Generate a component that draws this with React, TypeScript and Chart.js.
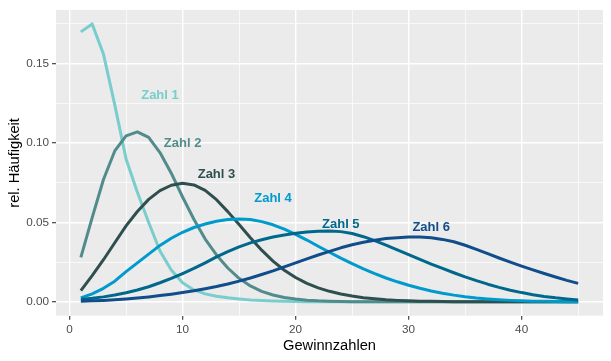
import React, { useEffect, useRef } from "react";
import { Chart, registerables } from "chart.js";

Chart.register(...registerables);

const gewinnzahlen = [1, 2, 3, 4, 5, 6, 7, 8, 9, 10, 11, 12, 13, 14, 15, 16, 17, 18, 19, 20, 21, 22, 23, 24, 25, 26, 27, 28, 29, 30, 31, 32, 33, 34, 35, 36, 37, 38, 39, 40, 41, 42, 43, 44, 45];

const zahl1 = [0.170, 0.175, 0.156, 0.124, 0.090, 0.069, 0.050, 0.032, 0.020, 0.012, 0.0075, 0.005, 0.0035, 0.0025, 0.0018, 0.0012, 0.0008, 0.0005, 0.0003, 0.0002, 0.0001, 0.0001, 0.0001, 0, 0, 0, 0, 0, 0, 0, 0, 0, 0, 0, 0, 0, 0, 0, 0, 0, 0, 0, 0, 0, 0];
const zahl2 = [0.028, 0.053, 0.077, 0.095, 0.1045, 0.107, 0.1035, 0.094, 0.081, 0.066, 0.052, 0.0395, 0.0295, 0.0213, 0.0148, 0.0100, 0.0066, 0.0043, 0.0027, 0.0017, 0.0010, 0.0006, 0.0004, 0.0002, 0.0001, 0.0001, 0, 0, 0, 0, 0, 0, 0, 0, 0, 0, 0, 0, 0, 0, 0, 0, 0, 0, 0];
const zahl3 = [0.007, 0.0165, 0.0265, 0.0372, 0.0478, 0.0569, 0.0645, 0.0700, 0.0734, 0.0746, 0.0736, 0.0702, 0.0643, 0.0568, 0.0487, 0.0403, 0.0325, 0.0256, 0.0199, 0.0153, 0.0116, 0.0088, 0.0066, 0.0049, 0.0036, 0.0026, 0.0019, 0.0013, 0.0009, 0.0006, 0.0004, 0.0003, 0.0002, 0.0001, 0.0001, 0, 0, 0, 0, 0, 0, 0, 0, 0, 0];
const zahl4 = [0.0025, 0.005, 0.0085, 0.013, 0.019, 0.0245, 0.030, 0.0355, 0.040, 0.0438, 0.0468, 0.049, 0.0507, 0.0518, 0.0522, 0.0518, 0.0505, 0.0485, 0.0458, 0.0425, 0.0389, 0.0350, 0.0312, 0.0275, 0.0240, 0.0207, 0.0177, 0.0150, 0.0126, 0.0104, 0.0085, 0.0068, 0.0054, 0.0042, 0.0032, 0.0024, 0.0018, 0.0013, 0.0009, 0.0006, 0.0004, 0.0003, 0.0002, 0.0001, 0.0001];
const zahl5 = [0.0015, 0.0022, 0.0031, 0.0043, 0.0057, 0.0074, 0.0095, 0.0120, 0.0147, 0.0178, 0.0210, 0.0245, 0.0283, 0.0316, 0.0346, 0.0371, 0.0391, 0.0408, 0.0421, 0.0432, 0.0440, 0.0445, 0.0446, 0.0442, 0.0430, 0.0410, 0.0385, 0.0357, 0.0327, 0.0297, 0.0267, 0.0238, 0.0210, 0.0183, 0.0157, 0.0133, 0.0111, 0.0091, 0.0073, 0.0058, 0.0045, 0.0034, 0.0025, 0.0018, 0.0012];
const zahl6 = [0.0003, 0.0006, 0.0009, 0.0013, 0.0018, 0.0024, 0.0031, 0.0039, 0.0048, 0.0058, 0.0069, 0.0082, 0.0096, 0.0112, 0.0130, 0.0150, 0.0172, 0.0195, 0.0220, 0.0245, 0.0270, 0.0295, 0.0318, 0.0340, 0.0359, 0.0375, 0.0388, 0.0398, 0.0404, 0.0408, 0.0408, 0.0403, 0.0393, 0.0378, 0.0356, 0.0330, 0.0303, 0.0276, 0.0250, 0.0225, 0.0201, 0.0178, 0.0156, 0.0135, 0.0116];

const seriesNames = ["Zahl 1", "Zahl 2", "Zahl 3", "Zahl 4", "Zahl 5", "Zahl 6"];
const seriesValues = [zahl1, zahl2, zahl3, zahl4, zahl5, zahl6];
const seriesColors = ["#79CDCD", "#528B8B", "#2F4F4F", "#009ACD", "#00688B", "#104E8B"];

const labelX = [8, 10, 13, 18, 24, 32];
const labelY = [0.130, 0.100, 0.080, 0.065, 0.049, 0.047];

const xMajorTicks = [0, 10, 20, 30, 40];
const xMinorTicks = [5, 15, 25, 35, 45];
const yMajorTicks = [0, 0.05, 0.1, 0.15];
const yMinorTicks = [0.025, 0.075, 0.125, 0.175];

const FONT = "'Liberation Sans', Arial, Helvetica, sans-serif";

export default function App() {
  const canvasRef = useRef<HTMLCanvasElement | null>(null);

  useEffect(() => {
    const canvas = canvasRef.current;
    if (!canvas) return;

    const panelBg = {
      id: "panelBg",
      beforeDraw(chart: any) {
        const { ctx, chartArea } = chart;
        ctx.save();
        ctx.fillStyle = "#EBEBEB";
        ctx.fillRect(chartArea.left, chartArea.top, chartArea.right - chartArea.left, chartArea.bottom - chartArea.top);
        ctx.restore();
      },
    };

    const textLabels = {
      id: "textLabels",
      afterDatasetsDraw(chart: any) {
        const { ctx } = chart;
        const xs = chart.scales.x;
        const ys = chart.scales.y;
        ctx.save();
        ctx.font = `bold 13px ${FONT}`;
        ctx.textAlign = "center";
        ctx.textBaseline = "middle";
        seriesNames.forEach((name, i) => {
          ctx.fillStyle = seriesColors[i];
          ctx.fillText(name, xs.getPixelForValue(labelX[i]), ys.getPixelForValue(labelY[i]));
        });
        ctx.restore();
      },
    };

    const xTickSet = [...xMajorTicks, ...xMinorTicks].sort((a, b) => a - b);
    const yTickSet = [...yMajorTicks, ...yMinorTicks].sort((a, b) => a - b);
    const isMajorX = (v: number) => xMajorTicks.indexOf(v) >= 0;
    const isMajorY = (v: number) => yMajorTicks.some((m) => Math.abs(m - v) < 1e-9);

    const chart = new Chart(canvas, {
      type: "scatter",
      data: {
        datasets: seriesNames.map((name, i) => ({
          label: name,
          data: gewinnzahlen.map((x, j) => ({ x, y: seriesValues[i][j] })),
          showLine: true,
          borderColor: seriesColors[i],
          backgroundColor: seriesColors[i],
          borderWidth: 3,
          pointRadius: 0,
          pointHoverRadius: 0,
          borderJoinStyle: "round",
          borderCapStyle: "butt",
          tension: 0,
          order: 6 - i,
        })),
      },
      options: {
        responsive: false,
        animation: false,
        events: [],
        layout: { padding: { left: 0, right: 8, top: 7, bottom: 0 } },
        plugins: {
          legend: { display: false },
          tooltip: { enabled: false },
        },
        scales: {
          x: {
            type: "linear",
            min: -1.2,
            max: 47.2,
            afterBuildTicks: (scale: any) => {
              scale.ticks = xTickSet.map((v) => ({ value: v }));
            },
            afterFit: (scale: any) => {
              scale.height = 45.3;
            },
            ticks: {
              autoSkip: false,
              maxRotation: 0,
              padding: 3,
              color: "#4D4D4D",
              font: { family: FONT, size: 11.73 },
              callback: (v: any) => (isMajorX(Number(v)) ? String(v) : ""),
            },
            grid: {
              color: "#FFFFFF",
              lineWidth: (ctx: any) => (ctx.tick && isMajorX(ctx.tick.value) ? 1.4 : 0.7),
              drawTicks: true,
              tickLength: 4,
              tickWidth: 1.1,
              tickColor: (ctx: any) => (ctx.tick && isMajorX(ctx.tick.value) ? "#333333" : "rgba(0,0,0,0)"),
            },
            border: { display: false },
            title: {
              display: true,
              text: "Gewinnzahlen",
              color: "#000000",
              font: { family: FONT, size: 14.67 },
              padding: { top: 0, bottom: 6 },
            },
          },
          y: {
            type: "linear",
            min: -0.00875,
            max: 0.18375,
            afterBuildTicks: (scale: any) => {
              scale.ticks = yTickSet.map((v) => ({ value: v }));
            },
            afterFit: (scale: any) => {
              scale.width = 56;
            },
            ticks: {
              autoSkip: false,
              padding: 3,
              color: "#4D4D4D",
              font: { family: FONT, size: 11.73 },
              callback: (v: any) => (isMajorY(Number(v)) ? Number(v).toFixed(2) : ""),
            },
            grid: {
              color: "#FFFFFF",
              lineWidth: (ctx: any) => (ctx.tick && isMajorY(ctx.tick.value) ? 1.4 : 0.7),
              drawTicks: true,
              tickLength: 4,
              tickWidth: 1.1,
              tickColor: (ctx: any) => (ctx.tick && isMajorY(ctx.tick.value) ? "#333333" : "rgba(0,0,0,0)"),
            },
            border: { display: false },
            title: {
              display: true,
              text: "rel. Häufigkeit",
              color: "#000000",
              font: { family: FONT, size: 14.67 },
              padding: { top: 6, bottom: 0 },
            },
          },
        },
      },
      plugins: [panelBg, textLabels],
    } as any);

    return () => chart.destroy();
  }, []);

  return (
    <div style={{ width: 611, height: 361, background: "#FFFFFF" }}>
      <style>{`body{margin:0;}`}</style>
      <canvas ref={canvasRef} width={611} height={361} style={{ display: "block", width: 611, height: 361 }} />
    </div>
  );
}
